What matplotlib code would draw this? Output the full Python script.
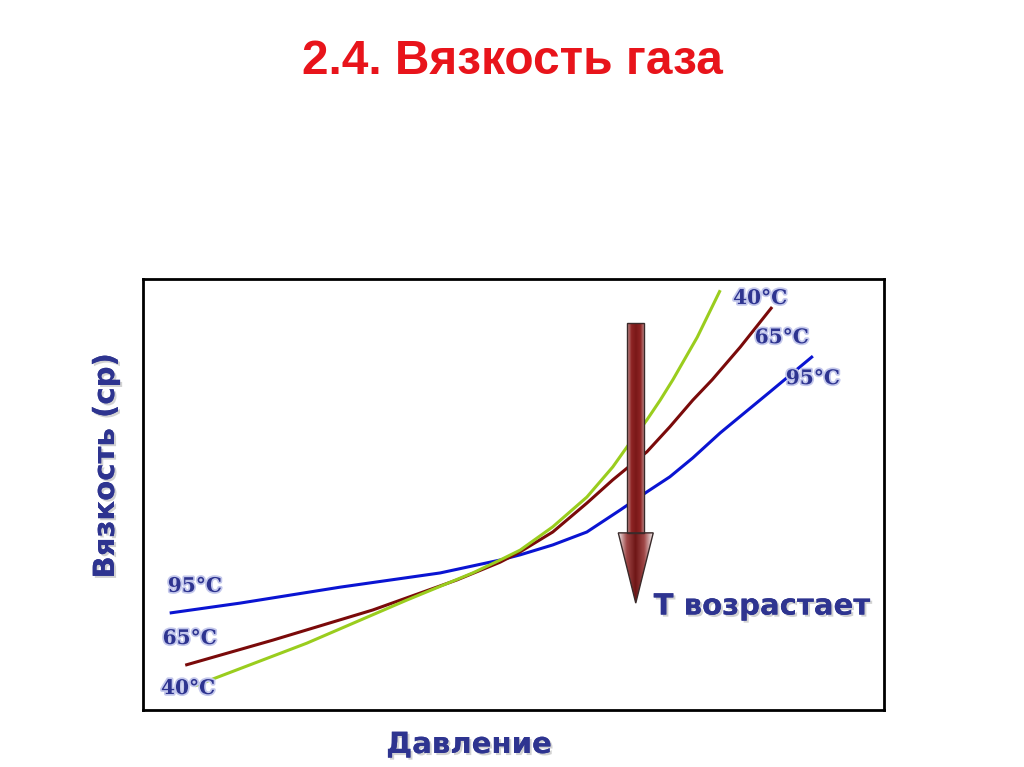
import matplotlib
matplotlib.use("Agg")
import matplotlib.pyplot as plt
import matplotlib.patheffects as pe
import numpy as np
from matplotlib.colors import LinearSegmentedColormap
from matplotlib.patches import Polygon

# curves (x: pressure, y: viscosity, arbitrary 0-100 units)
x_95 = [3.6, 13.1, 26.6, 40.1, 48.2, 50.9, 55.3, 59.9, 64.4, 68.0, 71.1, 74.2, 77.9, 84.6, 90.4]
y_95 = [22.5, 24.8, 28.5, 31.8, 34.8, 36.0, 38.3, 41.3, 46.4, 50.6, 54.1, 58.5, 64.3, 73.8, 82.1]

x_65 = [5.7, 17.5, 31.0, 42.4, 48.2, 50.9, 55.3, 59.9, 63.4, 68.0, 71.1, 74.2, 76.8, 80.6, 84.9]
y_65 = [10.4, 16.2, 23.2, 30.2, 34.3, 36.7, 41.3, 48.0, 53.4, 59.9, 65.7, 71.9, 76.6, 84.2, 93.5]

x_40 = [7.0, 22.1, 35.6, 44.5, 48.2, 50.9, 55.3, 59.9, 63.4, 65.3, 68.0, 69.8, 71.5, 74.8, 77.9]
y_40 = [5.6, 15.5, 25.5, 31.8, 34.8, 37.1, 42.5, 49.4, 56.4, 61.0, 67.3, 71.9, 76.6, 86.5, 97.4]

labels = ["40°C", "65°C", "95°C"]
left_label_pos = [(6.1, 5.1), (6.3, 16.7), (7.0, 28.8)]
right_label_pos = [(83.3, 95.6), (86.2, 86.5), (90.4, 77.0)]

TEXT_BLUE = "#2E3490"
shadow = [pe.withSimplePatchShadow(offset=(1.5, -1.5), shadow_rgbFace="gray", alpha=0.35), pe.Normal()]

fig = plt.figure(figsize=(10.24, 7.67), dpi=100, facecolor="white")
ax = fig.add_axes([143 / 1024, 57 / 767, 741 / 1024, 431 / 767])
ax.set_xticks([])
ax.set_yticks([])
for s in ax.spines.values():
    s.set_linewidth(2.0)
    s.set_color("black")

line_kw = dict(lw=2.2, solid_joinstyle="round", solid_capstyle="butt")
ax.plot(x_95, y_95, color="#0A14D2", **line_kw)
ax.plot(x_65, y_65, color="#7A0A0A", **line_kw)
ax.plot(x_40, y_40, color="#9ACD1E", **line_kw)

label_fx = [pe.withStroke(linewidth=2.5, foreground="#C4C8EC")]
for lab, (lx, ly) in zip(labels, left_label_pos):
    ax.text(lx, ly, lab, ha="center", va="center", fontsize=14.5, fontweight="bold",
            family="DejaVu Serif", color=TEXT_BLUE, path_effects=label_fx, zorder=5)
for lab, (lx, ly) in zip(labels, right_label_pos):
    ax.text(lx, ly, lab, ha="center", va="center", fontsize=14.5, fontweight="bold",
            family="DejaVu Serif", color=TEXT_BLUE, path_effects=label_fx, zorder=5)

# arrow "T increases" with gradient shading
cx, half_shaft, top = 66.5, 1.15, 89.8
head_base, tip, half_head = 41.1, 24.8, 2.36

shaft_cmap = LinearSegmentedColormap.from_list("shaft", ["#C89A9A", "#8E2424", "#7A1818", "#8E2424", "#C89A9A"])
head_cmap = LinearSegmentedColormap.from_list("head", ["#F4F0F0", "#A04848", "#6E1616", "#A04848", "#F4F0F0"])
grad = np.linspace(0, 1, 256).reshape(1, -1)

shaft = Polygon([(cx - half_shaft, head_base), (cx - half_shaft, top), (cx + half_shaft, top),
                 (cx + half_shaft, head_base)], closed=True, fc="none", ec="#3A2A2A", lw=1.0, zorder=7)
head = Polygon([(cx - half_head, head_base), (cx + half_head, head_base), (cx, tip)],
               closed=True, fc="none", ec="#3A2A2A", lw=1.0, zorder=7)
ax.add_patch(shaft)
ax.add_patch(head)
im1 = ax.imshow(grad, cmap=shaft_cmap, aspect="auto", zorder=6,
                extent=(cx - half_shaft, cx + half_shaft, head_base, top))
im1.set_clip_path(shaft)
im2 = ax.imshow(grad, cmap=head_cmap, aspect="auto", zorder=6,
                extent=(cx - half_head, cx + half_head, tip, head_base))
im2.set_clip_path(head)
ax.set_xlim(0, 100)
ax.set_ylim(0, 100)

ax.text(83.5, 24.0, "Т возрастает", ha="center", va="center", fontsize=21, fontweight="bold",
        color=TEXT_BLUE, path_effects=shadow, zorder=8)

fig.text(512 / 1024, 1 - 62 / 767, "2.4. Вязкость газа", ha="center", va="center",
         fontsize=34.5, fontweight="bold", family="Liberation Sans", color="#E8141B")
fig.text(469 / 1024, 1 - 745 / 767, "Давление", ha="center", va="center", fontsize=21,
         fontweight="bold", color=TEXT_BLUE, path_effects=shadow)
fig.text(106 / 1024, 1 - 466 / 767, "Вязкость (ср)", ha="center", va="center", rotation=90,
         fontsize=21, fontweight="bold", color=TEXT_BLUE, path_effects=shadow)

fig.savefig("out.png", dpi=100, facecolor="white")
